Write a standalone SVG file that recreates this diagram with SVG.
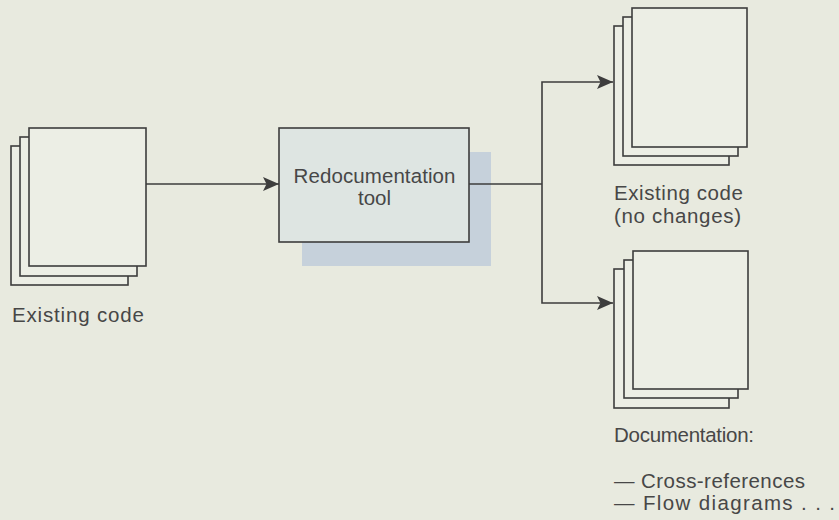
<svg xmlns="http://www.w3.org/2000/svg" width="839" height="520" viewBox="0 0 839 520">
  <style>
    .page { fill: #eceee5; stroke: #3d3d3d; stroke-width: 1.6; }
    .wire { fill: none; stroke: #3d3d3d; stroke-width: 1.6; }
    .label { font-family: "Liberation Sans", Arial, sans-serif; font-size: 20.5px; fill: #474747; }
    .tool { fill: #dee5e2; stroke: #3d3d3d; stroke-width: 1.6; }
    .shadow { fill: #c6d1db; }
  </style>
  <defs>
    <marker id="arrow" markerUnits="userSpaceOnUse" markerWidth="18" markerHeight="16" refX="17" refY="8" orient="auto">
      <path d="M1,1 L17,8 L1,15 L4.5,8 Z" fill="#3d3d3d"/>
    </marker>
  </defs>

  <rect x="0" y="0" width="839" height="520" fill="#e8eadf"/>

  <!-- input: stack of source listings -->
  <g id="existing-code-in">
    <rect class="page" x="11" y="146" width="117" height="139"/>
    <rect class="page" x="20" y="137" width="117" height="139"/>
    <rect class="page" x="29" y="128" width="117" height="138"/>
    <text class="label" x="12" y="322" textLength="132" lengthAdjust="spacing">Existing code</text>
  </g>

  <!-- processing tool with drop shadow -->
  <g id="redocumentation-tool">
    <rect class="shadow" x="302" y="152" width="189" height="114"/>
    <rect class="tool" x="279" y="128" width="190" height="114"/>
    <text class="label" x="374.5" y="183" text-anchor="middle" textLength="162" lengthAdjust="spacing">Redocumentation</text>
    <text class="label" x="374.5" y="205" text-anchor="middle">tool</text>
  </g>

  <!-- output: unchanged code -->
  <g id="existing-code-out">
    <rect class="page" x="614" y="26" width="115" height="139"/>
    <rect class="page" x="623" y="17" width="115" height="139"/>
    <rect class="page" x="632" y="8" width="115" height="139"/>
    <text class="label" x="614" y="200" textLength="129" lengthAdjust="spacing">Existing code</text>
    <text class="label" x="614" y="223" textLength="127" lengthAdjust="spacing">(no changes)</text>
  </g>

  <!-- output: generated documentation -->
  <g id="documentation">
    <rect class="page" x="614" y="269" width="115" height="139"/>
    <rect class="page" x="624" y="260" width="114" height="138"/>
    <rect class="page" x="633" y="251" width="115" height="138"/>
    <text class="label" x="614" y="442" textLength="140" lengthAdjust="spacing">Documentation:</text>
    <text class="label" x="614" y="488" textLength="191" lengthAdjust="spacing">— Cross-references</text>
    <text class="label" x="614" y="510" textLength="221" lengthAdjust="spacing">— Flow diagrams . . .</text>
  </g>

  <g id="connectors">
    <line class="wire" x1="146" y1="184" x2="279" y2="184" marker-end="url(#arrow)"/>
    <line class="wire" x1="469" y1="184" x2="542" y2="184"/>
    <polyline class="wire" points="542,184 542,82 613,82" marker-end="url(#arrow)"/>
    <polyline class="wire" points="542,184 542,303 613,303" marker-end="url(#arrow)"/>
  </g>
</svg>
